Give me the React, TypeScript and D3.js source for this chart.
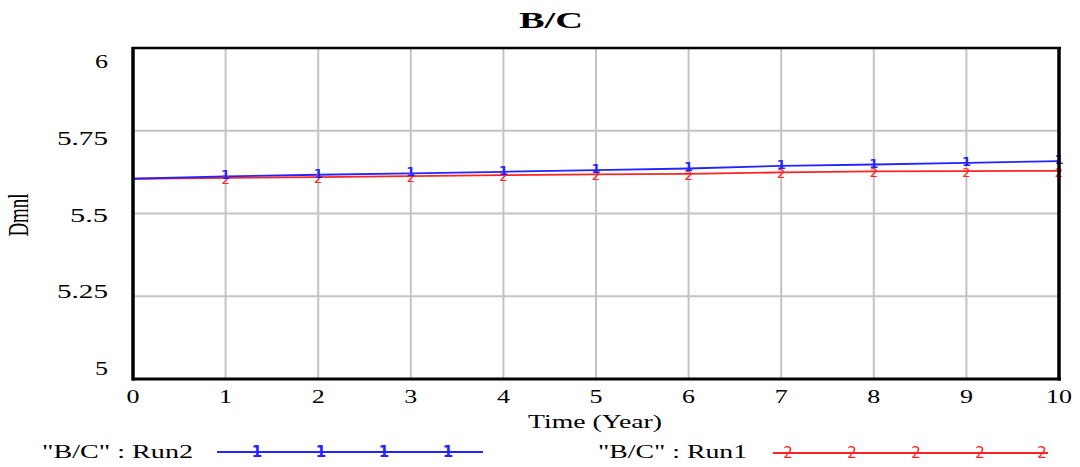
import React from "react";
import * as d3 from "d3";

const years = [0, 1, 2, 3, 4, 5, 6, 7, 8, 9, 10];
const run2 = [5.605, 5.612, 5.617, 5.621, 5.626, 5.631, 5.636, 5.644, 5.648, 5.653, 5.658];
const run1 = [5.605, 5.608, 5.61, 5.613, 5.616, 5.618, 5.62, 5.624, 5.627, 5.628, 5.629];
const yTicks = [5, 5.25, 5.5, 5.75, 6];
const yTickLabels = ["5", "5.25", "5.5", "5.75", "6"];
const xTicks = [0, 1, 2, 3, 4, 5, 6, 7, 8, 9, 10];
const title = "B/C";
const xTitle = "Time (Year)";
const yTitle = "Dmnl";
const legendRun2 = '"B/C" : Run2';
const legendRun1 = '"B/C" : Run1';

const BLUE = "#2424ff";
const RED = "#ff2424";
const SERIF = "'Liberation Serif', 'Times New Roman', serif";
const SANS = "'DejaVu Sans', 'Liberation Sans', Arial, sans-serif";

export default function App() {
  const L = 133, R = 1059, T = 48, B = 379;
  const x = d3.scaleLinear().domain([0, 10]).range([L, R]);
  const y = d3.scaleLinear().domain([5, 6]).range([B, T]);
  const yLab = d3.scaleLinear().domain([5, 6]).range([368, 61]);

  const line = d3
    .line<number>()
    .x((_, i) => x(years[i]))
    .y((d) => y(d));

  const labW = (s: string) => {
    let w = 0;
    for (const c of s) w += c === "." ? 12 : 13;
    return w;
  };

  const legend2Marks = [257, 321, 384, 448];
  const legend1Marks = [788, 852, 916, 980, 1042];

  return (
    <div style={{ position: "fixed", left: 0, top: 0 }}>
      <svg width={1080} height={467} style={{ display: "block", background: "#fff" }}>
        <rect x={0} y={0} width={1080} height={467} fill="#fff" />
        <text
          x={519}
          y={28}
          fontFamily={SERIF}
          fontWeight="bold"
          fontSize={24}
          textLength={64}
          lengthAdjust="spacingAndGlyphs"
          fill="#000"
        >
          {title}
        </text>

        {xTicks
          .filter((t) => t > 0 && t < 10)
          .map((t) => (
            <line key={"gx" + t} x1={x(t)} x2={x(t)} y1={T} y2={B} stroke="#c4c4c4" strokeWidth={2} />
          ))}
        {yTicks
          .filter((t) => t > 5 && t < 6)
          .map((t) => (
            <line key={"gy" + t} x1={L} x2={R} y1={y(t)} y2={y(t)} stroke="#c4c4c4" strokeWidth={2} />
          ))}

        <path d={line(run1) || ""} fill="none" stroke={RED} strokeWidth={1.8} />
        <path d={line(run2) || ""} fill="none" stroke={BLUE} strokeWidth={1.8} />
        {years
          .filter((t) => t > 0)
          .map((t) => (
            <text
              key={"m2" + t}
              x={x(t)}
              y={y(run1[t]) + 6}
              textAnchor="middle"
              fontFamily={SANS}
              fontSize={13}
              fill={RED}
            >
              2
            </text>
          ))}
        {years
          .filter((t) => t > 0)
          .map((t) => (
            <text
              key={"m1" + t}
              x={x(t)}
              y={y(run2[t]) + 3}
              textAnchor="middle"
              fontFamily={SANS}
              fontWeight="bold"
              fontSize={13}
              fill={BLUE}
            >
              1
            </text>
          ))}

        <line x1={L - 1} x2={R + 2} y1={T} y2={T} stroke="#000" strokeWidth={2.5} />
        <line x1={L} x2={L} y1={T - 1} y2={B + 1.5} stroke="#000" strokeWidth={3.5} />
        <line x1={R} x2={R} y1={T - 1} y2={B + 1.5} stroke="#000" strokeWidth={3.5} />
        <line x1={L - 1} x2={R + 2} y1={B} y2={B} stroke="#000" strokeWidth={3} />

        {yTicks.map((t, i) => (
          <text
            key={"yl" + t}
            x={108}
            y={yLab(t) + 7}
            textAnchor="end"
            fontFamily={SERIF}
            fontSize={19}
            textLength={labW(yTickLabels[i])}
            lengthAdjust="spacingAndGlyphs"
            fill="#000"
          >
            {yTickLabels[i]}
          </text>
        ))}

        {xTicks.map((t) => (
          <text
            key={"xl" + t}
            x={x(t)}
            y={403}
            textAnchor="middle"
            fontFamily={SERIF}
            fontSize={19}
            textLength={String(t).length * 13}
            lengthAdjust="spacingAndGlyphs"
            fill="#000"
          >
            {t}
          </text>
        ))}

        <text
          x={528}
          y={428}
          fontFamily={SERIF}
          fontSize={19}
          textLength={134}
          lengthAdjust="spacingAndGlyphs"
          fill="#000"
        >
          {xTitle}
        </text>
        <g transform="translate(28,215) scale(1.6,1) rotate(-90)">
          <text x={0} y={0} textAnchor="middle" fontFamily={SERIF} fontSize={19} fill="#000">
            {yTitle}
          </text>
        </g>

        <text
          x={42}
          y={458}
          fontFamily={SERIF}
          fontSize={19}
          textLength={151}
          lengthAdjust="spacingAndGlyphs"
          fill="#000"
        >
          {legendRun2}
        </text>
        <line x1={217} x2={483} y1={452} y2={452} stroke={BLUE} strokeWidth={1.8} />
        {legend2Marks.map((m) => (
          <text key={"lm2" + m} x={m} y={457} textAnchor="middle" fontFamily={SANS} fontWeight="bold" fontSize={15} fill={BLUE}>
            1
          </text>
        ))}
        <text
          x={598}
          y={458}
          fontFamily={SERIF}
          fontSize={19}
          textLength={149}
          lengthAdjust="spacingAndGlyphs"
          fill="#000"
        >
          {legendRun1}
        </text>
        <line x1={773} x2={1048} y1={453} y2={453} stroke={RED} strokeWidth={1.8} />
        {legend1Marks.map((m) => (
          <text key={"lm1" + m} x={m} y={458} textAnchor="middle" fontFamily={SANS} fontSize={15} fill={RED}>
            2
          </text>
        ))}
      </svg>
    </div>
  );
}
